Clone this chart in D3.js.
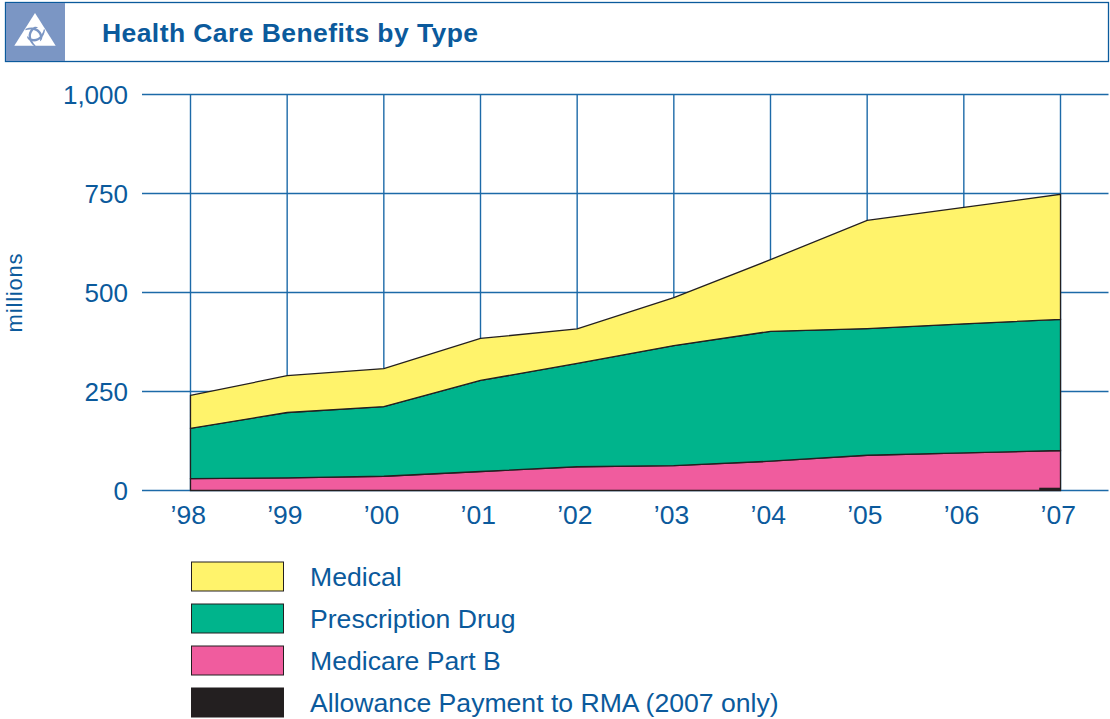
<!DOCTYPE html>
<html>
<head>
<meta charset="utf-8">
<script src="https://cdn.jsdelivr.net/npm/d3@7"></script>
<style>
  html, body { margin: 0; padding: 0; background: #fff; }
  svg { display: block; }
  text { font-family: "Liberation Sans", Arial, sans-serif; fill: #0b5a9c; }
</style>
</head>
<body>
<div id="chart"></div>
<script>
(function() {
// values, in millions
let years = [1998, 1999, 2000, 2001, 2002, 2003, 2004, 2005, 2006, 2007];
let yearLabels = ['’98', '’99', '’00', '’01', '’02', '’03', '’04', '’05', '’06', '’07'];
let medicarePartB = [30, 32, 36, 48, 60, 63, 74, 89, 95, 101];
let prescriptionDrug = [127, 165, 176, 230, 261, 303, 328, 320, 326, 331];
let medical = [83, 93, 96, 106, 87, 121, 181, 273, 294, 316];
let allowance = 7;
let allowanceFrom = 2006.78;
let yTicks = [0, 250, 500, 750, 1000];
let legendNames = ['Medical', 'Prescription Drug', 'Medicare Part B', 'Allowance Payment to RMA (2007 only)'];
let legendColors = ['#fff36b', '#00b48c', '#f05c9e', '#231f20'];

let lineBlue = '#1c6aa8';
let logoBlue = '#7b96c4';
let width = 1110, height = 719;

let x = d3.scaleLinear().domain([1998, 2007]).range([190.5, 1060.5]);
let y = d3.scaleLinear().domain([0, 1000]).range([490.5, 94.5]);

let svg = d3.select('#chart').append('svg')
  .attr('width', width)
  .attr('height', height);

// title bar
svg.append('rect')
  .attr('x', 5.5).attr('y', 2.5)
  .attr('width', 1103).attr('height', 59)
  .attr('fill', '#fff')
  .attr('stroke', '#0b5a9c')
  .attr('stroke-width', 1.3);
svg.append('rect')
  .attr('x', 6).attr('y', 3)
  .attr('width', 59).attr('height', 58)
  .attr('fill', logoBlue);

// logo: white triangle with three swirl cuts
let logo = svg.append('g').attr('transform', 'translate(35,35)');
logo.append('path')
  .attr('d', 'M0,-22 L20.7,10.7 L-20.7,10.7 Z')
  .attr('fill', '#fff');
logo.selectAll('path.swirl')
  .data([0, 120, 240])
  .enter().append('path')
  .attr('class', 'swirl')
  .attr('transform', d => 'rotate(' + d + ')')
  .attr('d', 'M10,-5 C9,3 3,8 -4,6 C-7,5 -8,3 -8,1 C-5,4 -1,5 3,3 C6,1 8,-2 9,-6 Z')
  .attr('fill', logoBlue);

svg.append('text')
  .attr('x', 102).attr('y', 42)
  .attr('font-size', 26.5)
  .attr('font-weight', 'bold')
  .style('letter-spacing', '0.42px')
  .text('Health Care Benefits by Type');

// grid
svg.append('g').selectAll('line')
  .data(yTicks)
  .enter().append('line')
  .attr('x1', 142).attr('x2', x(2007) + 48)
  .attr('y1', d => y(d)).attr('y2', d => y(d))
  .attr('stroke', lineBlue)
  .attr('stroke-width', 1.4);
svg.append('g').selectAll('line')
  .data(years)
  .enter().append('line')
  .attr('x1', d => x(d)).attr('x2', d => x(d))
  .attr('y1', y(1000)).attr('y2', y(0))
  .attr('stroke', lineBlue)
  .attr('stroke-width', 1.4);

// stacked areas
let rows = years.map((yr, i) => ({
  year: yr,
  partB: medicarePartB[i],
  drug: prescriptionDrug[i],
  medical: medical[i]
}));
let stack = d3.stack().keys(['partB', 'drug', 'medical']);
let fills = { partB: legendColors[2], drug: legendColors[1], medical: legendColors[0] };
let area = d3.area()
  .x(d => x(d.data.year))
  .y0(d => y(d[0]))
  .y1(d => y(d[1]));

svg.append('g').selectAll('path')
  .data(stack(rows))
  .enter().append('path')
  .attr('d', area)
  .attr('fill', d => fills[d.key])
  .attr('stroke', '#231f20')
  .attr('stroke-width', 1.3)
  .attr('stroke-linejoin', 'miter');

// 2007 only allowance
svg.append('rect')
  .attr('x', x(allowanceFrom))
  .attr('y', y(allowance))
  .attr('width', x(2007) - x(allowanceFrom))
  .attr('height', y(0) - y(allowance))
  .attr('fill', legendColors[3]);

// y axis labels
svg.append('g').selectAll('text')
  .data(yTicks)
  .enter().append('text')
  .attr('x', 128).attr('y', d => y(d) + 9.5)
  .attr('text-anchor', 'end')
  .attr('font-size', 26)
  .text(d => d3.format(',')(d));

svg.append('text')
  .attr('transform', 'translate(22,292.5) rotate(-90)')
  .attr('text-anchor', 'middle')
  .attr('font-size', 22)
  .style('letter-spacing', '0.8px')
  .text('millions');

// x axis labels
svg.append('g').selectAll('text')
  .data(years)
  .enter().append('text')
  .attr('x', d => x(d) - 20)
  .attr('y', 524)
  .attr('font-size', 26.5)
  .text((d, i) => yearLabels[i]);

// legend
let legend = svg.append('g').selectAll('g')
  .data(legendNames)
  .enter().append('g')
  .attr('transform', (d, i) => 'translate(191,' + (561.5 + i * 42) + ')');
legend.append('rect')
  .attr('x', 0.5).attr('y', 0.5)
  .attr('width', 92).attr('height', 29)
  .attr('fill', (d, i) => legendColors[i])
  .attr('stroke', '#231f20')
  .attr('stroke-width', 1);
legend.append('text')
  .attr('x', 119).attr('y', 24.5)
  .attr('font-size', 26.6)
  .text(d => d);
})();
</script>
</body>
</html>
